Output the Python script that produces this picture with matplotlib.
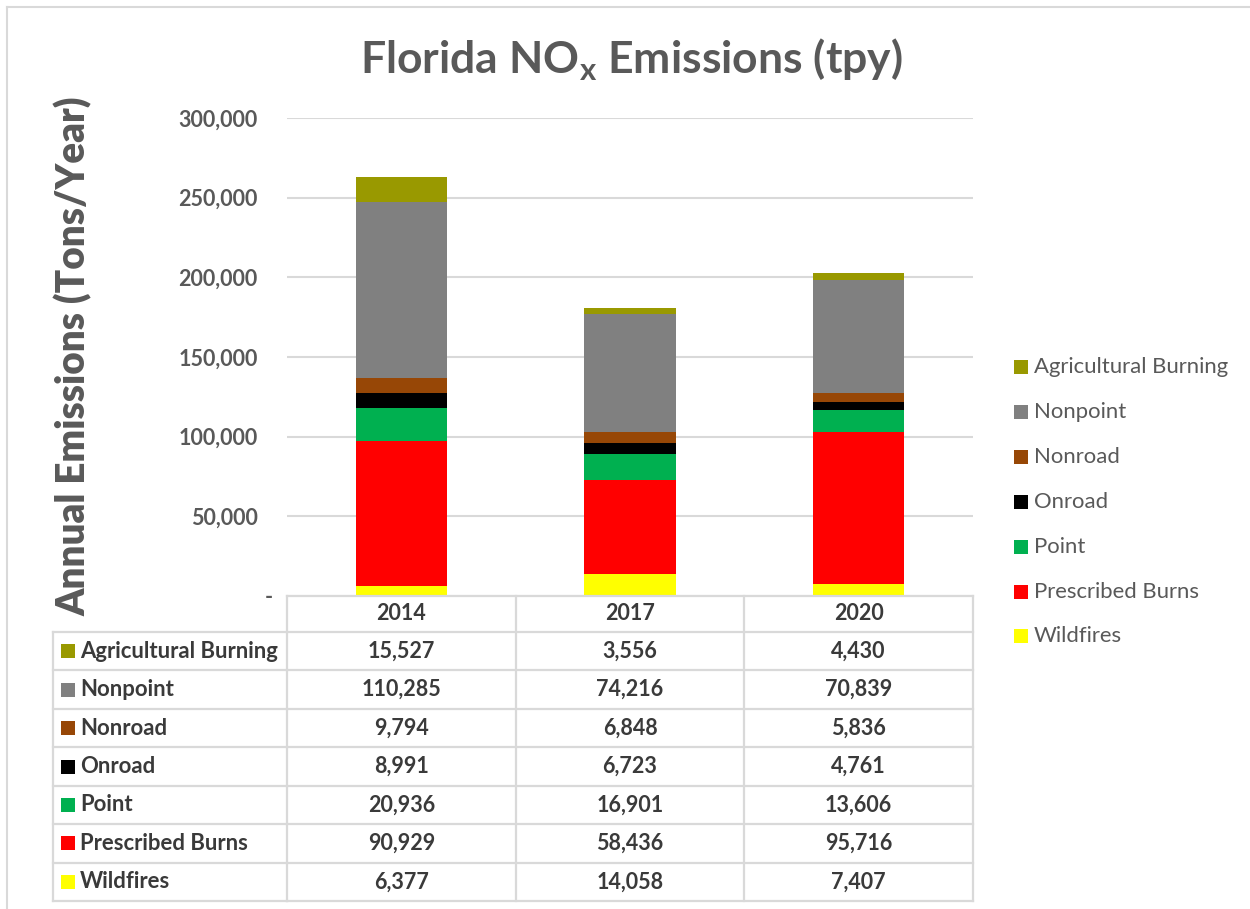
import matplotlib
matplotlib.use('Agg')
import matplotlib.pyplot as plt
import matplotlib.transforms as mtrans
from matplotlib.lines import Line2D
from matplotlib.patches import Rectangle
from matplotlib.ticker import FuncFormatter

plt.rcParams['font.family'] = ['Lato', 'DejaVu Sans']
plt.rcParams['mathtext.fontset'] = 'custom'
plt.rcParams['mathtext.rm'] = 'Lato:bold'
plt.rcParams['mathtext.bf'] = 'Lato:bold'

# ---- data ----
years = ['2014', '2017', '2020']
categories = ['Wildfires', 'Prescribed Burns', 'Point', 'Onroad', 'Nonroad',
              'Nonpoint', 'Agricultural Burning']
wildfires = [6377, 14058, 7407]
prescribed_burns = [90929, 58436, 95716]
point = [20936, 16901, 13606]
onroad = [8991, 6723, 4761]
nonroad = [9794, 6848, 5836]
nonpoint = [110285, 74216, 70839]
agricultural_burning = [15527, 3556, 4430]
series = [wildfires, prescribed_burns, point, onroad, nonroad, nonpoint,
          agricultural_burning]
colors = ['#FFFF00', '#FF0000', '#00B050', '#000000', '#974706', '#808080',
          '#999900']
yticks = [0, 50000, 100000, 150000, 200000, 250000, 300000]

W, H = 1250, 909
def fx(p):
    return p / W
def fy(p):
    return 1 - p / H

grid_c = '#D9D9D9'
txt_c = '#595959'
tbl_c = '#3A3A3A'

fig = plt.figure(figsize=(W / 100, H / 100), dpi=100)
fig.patch.set_facecolor('white')

ax = fig.add_axes([fx(287), fy(596), fx(973) - fx(287), fy(118) - fy(596)])
x = list(range(len(years)))
bottom = [0] * len(years)
for vals, col, name in zip(series, colors, categories):
    ax.bar(x, vals, width=0.4, bottom=bottom, color=col, label=name, zorder=3)
    bottom = [b + v for b, v in zip(bottom, vals)]

ax.set_xlim(-0.5, 2.5)
ax.set_ylim(0, 300000)
ax.set_yticks(yticks)
ax.yaxis.set_major_formatter(FuncFormatter(lambda v, p: '-' if v == 0 else f'{int(v):,}'))
ax.yaxis.grid(True, color=grid_c, linewidth=1.5, zorder=0)
ax.set_xticks([])
for s in ax.spines.values():
    s.set_visible(False)
ax.tick_params(axis='y', length=0, pad=21, labelsize=15.5, labelcolor=txt_c)
for lab in ax.get_yticklabels():
    lab.set_fontweight('bold')
fig.canvas.draw()
zl = ax.get_yticklabels()[0]
zl.set_transform(zl.get_transform() + mtrans.ScaledTranslation(0.15, 0, fig.dpi_scale_trans))

# title
fig.text(fx(631), fy(60), r'Florida NO$_\mathregular{x}$ Emissions (tpy)',
         ha='center', va='center', fontsize=32, fontweight='bold', color=txt_c)

# y label
fig.text(fx(74), fy(356), 'Annual Emissions (Tons/Year)', rotation=90,
         ha='center', va='center', fontsize=27.8, fontweight='heavy', color=txt_c)

# ---- data table ----
bt = mtrans.blended_transform_factory(ax.transData, fig.transFigure)
header_top, header_bot, table_bot = 596, 632, 901
nrows = len(categories)
row_h = (table_bot - header_bot) / nrows
lw = 1.6
fig.add_artist(Line2D([-0.5, 2.5], [fy(header_top)] * 2, transform=bt, color=grid_c, lw=lw))
for i in range(nrows + 1):
    yy = fy(header_bot + i * row_h)
    fig.add_artist(Line2D([fx(53), fx(287)], [yy, yy], transform=fig.transFigure, color=grid_c, lw=lw))
    fig.add_artist(Line2D([-0.5, 2.5], [yy, yy], transform=bt, color=grid_c, lw=lw))
fig.add_artist(Line2D([fx(53), fx(53)], [fy(header_bot), fy(table_bot)], transform=fig.transFigure, color=grid_c, lw=lw))
for xe in [-0.5, 0.5, 1.5, 2.5]:
    fig.add_artist(Line2D([xe, xe], [fy(header_top), fy(table_bot)], transform=bt, color=grid_c, lw=lw))
for i, yr in enumerate(years):
    fig.text(i, fy((header_top + header_bot) / 2), yr, transform=bt, ha='center', va='center',
             fontsize=15.5, fontweight='bold', color=tbl_c)
order = list(range(nrows))[::-1]
for r, k in enumerate(order):
    yc = header_bot + (r + 0.5) * row_h
    fig.add_artist(Rectangle((fx(61), fy(yc + 7)), 14 / W, 14 / H, transform=fig.transFigure,
                             facecolor=colors[k], edgecolor='none'))
    fig.text(fx(80), fy(yc), categories[k], ha='left', va='center', fontsize=15.9,
             fontweight='bold', color=tbl_c)
    for i in range(len(years)):
        fig.text(i, fy(yc), f'{series[k][i]:,}', transform=bt, ha='center', va='center',
                 fontsize=15.5, fontweight='bold', color=tbl_c)

# ---- legend ----
leg_y = [367, 412, 457, 502, 547, 592, 636]
for r, k in enumerate(order):
    fig.add_artist(Rectangle((fx(1014), fy(leg_y[r] + 7)), 14 / W, 14 / H, transform=fig.transFigure,
                             facecolor=colors[k], edgecolor='none'))
    fig.text(fx(1034), fy(leg_y[r]), categories[k], ha='left', va='center', fontsize=15.9,
             color=txt_c)

# outer frame
fig.add_artist(Line2D([fx(7), 1], [fy(7), fy(7)], transform=fig.transFigure, color=grid_c, lw=1.5))
fig.add_artist(Line2D([fx(7), fx(7)], [fy(7), 0], transform=fig.transFigure, color=grid_c, lw=1.5))

fig.savefig('out.png', dpi=100)
